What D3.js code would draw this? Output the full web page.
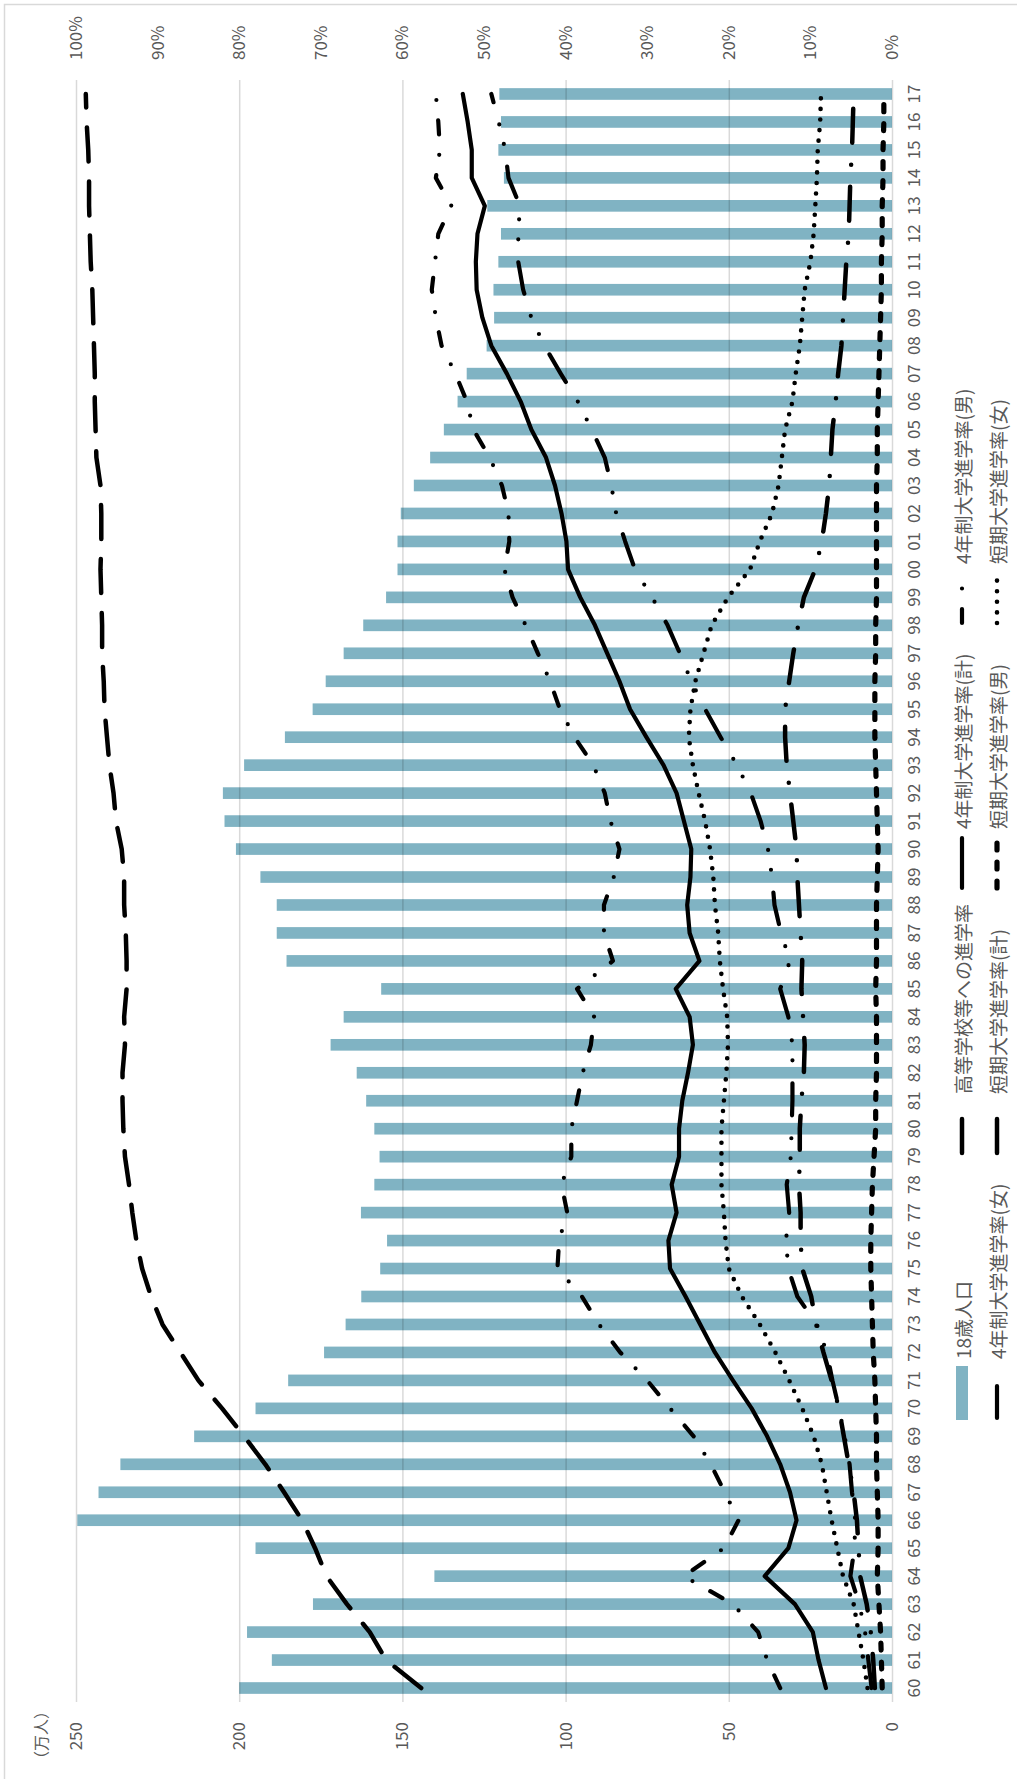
<!DOCTYPE html>
<html><head><meta charset="utf-8">
<script src="https://cdn.jsdelivr.net/npm/d3@7"></script>
<style>
html,body{margin:0;padding:0;background:#fff;}
svg{display:block;}
text{font-family:"Noto Sans CJK JP","Noto Sans",sans-serif;}
</style></head><body>
<svg id="chart" width="1017" height="1779"></svg>
<script>
// School years 1960–2017 (two-digit labels)
const years = ["60","61","62","63","64","65","66","67","68","69",
  "70","71","72","73","74","75","76","77","78","79",
  "80","81","82","83","84","85","86","87","88","89",
  "90","91","92","93","94","95","96","97","98","99",
  "00","01","02","03","04","05","06","07","08","09",
  "10","11","12","13","14","15","16","17"];

// 18-year-old population (10,000 persons)
const population = [200,190,197.6,177.4,140.2,195,249.6,243.1,236.4,213.8,
  195,185,174,167.4,162.6,156.8,154.7,162.7,158.6,157,
  158.6,161.1,164,172,168,156.5,185.5,188.5,188.5,193.5,
  201,204.5,205,198.5,186,177.5,173.5,168,162,155,
  151.5,151.5,150.5,146.5,141.5,137.3,133.1,130.3,124.2,121.9,
  122.1,120.6,119.8,124,118.9,120.6,119.8,120.3];

// Enrolment rates (%)
const highSchool = [57.7,62.0,64.0,66.8,69.3,70.7,72.3,74.5,76.8,79.4,
  82.1,85.0,87.2,89.4,90.8,91.9,92.6,93.1,93.5,94.0,
  94.2,94.3,94.3,94.0,94.1,93.8,93.8,93.9,94.1,94.1,
  94.4,95.1,95.4,95.9,96.2,96.5,96.6,96.8,96.8,96.9,
  97.0,96.9,96.9,97.0,97.5,97.6,97.7,97.7,97.8,97.9,
  98.0,98.2,98.3,98.4,98.4,98.5,98.7,98.8];
const univTotal = [8.1,9.0,9.7,11.9,15.6,12.7,11.7,12.5,13.7,15.3,
  17.2,19.5,21.7,23.5,25.3,27.2,27.4,26.4,27.0,26.1,
  26.1,25.7,25.0,24.4,24.8,26.5,23.6,24.8,25.1,24.7,
  24.6,25.5,26.4,28.0,30.1,32.1,33.4,34.9,36.4,38.2,
  39.7,39.9,40.5,41.3,42.4,44.2,45.5,47.2,49.1,50.2,
  50.9,51.0,50.8,49.9,51.5,51.5,52.0,52.6];
const univMale = [13.7,15.3,16.4,19.5,25.5,20.6,18.8,20.5,22.2,24.3,
  27.2,30.0,33.3,35.9,38.0,41.0,40.8,39.8,40.5,39.3,
  39.3,38.6,37.9,36.9,36.5,38.6,34.2,35.3,35.3,34.1,
  33.4,34.5,35.2,36.6,38.9,40.7,41.9,43.4,44.9,46.5,
  47.5,46.9,47.0,47.8,49.3,51.3,52.1,53.5,55.2,55.9,
  56.4,56.0,55.6,54.0,55.9,55.4,55.6,55.9];
const univFemale = [2.5,2.9,3.3,4.0,5.1,4.6,4.5,4.9,5.2,5.8,
  6.5,7.3,8.0,9.2,11.6,12.7,13.0,12.6,12.9,12.4,
  12.3,12.2,12.2,12.2,12.7,13.7,12.5,13.6,14.4,14.7,
  15.2,16.1,17.3,19.0,21.0,22.9,24.6,26.0,27.5,29.4,
  31.5,32.7,33.8,34.4,35.2,36.8,38.5,40.6,42.6,44.2,
  45.2,45.8,45.8,45.6,47.0,47.4,48.2,49.1];
const juniorTotal = [2.1,2.3,2.6,3.1,3.9,4.1,4.3,4.7,5.3,5.9,
  6.5,7.4,8.4,9.3,9.9,11.0,11.2,11.2,11.4,11.3,
  11.3,11.1,10.8,10.7,10.9,11.1,11.0,11.2,11.4,11.6,
  11.7,12.1,12.5,12.9,13.1,13.1,12.6,12.1,11.5,10.8,
  9.4,8.6,8.1,7.7,7.5,7.3,6.9,6.6,6.2,6.0,
  5.8,5.6,5.3,5.2,5.1,4.9,4.8,4.7];
const juniorMale = [1.2,1.3,1.4,1.6,1.8,1.7,1.7,1.8,1.9,1.9,
  2.0,2.1,2.3,2.4,2.5,2.6,2.6,2.5,2.4,2.2,
  2.0,2.0,1.9,1.9,1.9,2.0,1.9,1.9,1.9,1.8,
  1.7,1.8,1.9,2.0,2.1,2.1,2.1,2.0,2.0,1.9,
  1.9,1.9,1.9,1.9,1.8,1.8,1.7,1.6,1.5,1.4,
  1.3,1.3,1.2,1.2,1.1,1.1,1.0,1.0];
const juniorFemale = [3.0,3.5,4.1,4.7,6.0,6.7,7.4,8.0,8.6,9.6,
  11.0,12.6,14.3,16.2,18.4,20.0,20.4,20.6,20.9,20.9,
  20.9,20.6,20.3,20.1,20.2,20.7,21.1,21.3,21.7,21.9,
  22.3,22.9,23.7,24.4,24.9,24.7,24.1,23.1,22.1,20.1,
  17.4,16.2,14.7,13.9,13.5,13.1,12.2,11.8,11.3,11.0,
  10.7,10.0,9.6,9.4,9.2,9.1,8.8,8.7];

// Axis ticks
const popTicks = [0,50,100,150,200,250];
const pctTicks = [0,10,20,30,40,50,60,70,80,90,100];
const popUnit = "（万人）";

// Legend labels, in legend order
const legendLabels = ["18歳人口","高等学校等への進学率","4年制大学進学率(計)","4年制大学進学率(男)",
  "4年制大学進学率(女)","短期大学進学率(計)","短期大学進学率(男)","短期大学進学率(女)"];

// ---- drawing (chart is laid out landscape, then turned a quarter turn) ----
const W = 1779, H = 1017;
const plot = {left: 77, right: 1699, top: 76, bottom: 892};
const ink = "#595959";
const fontStack = '"Noto Sans CJK JP","Noto Sans",sans-serif';

const svg = d3.select("#chart");
svg.append("rect").attr("width",1017).attr("height",1779).attr("fill","#fff");
// frame edges
svg.append("path").attr("d","M4.5,1779 V4.5 H1017").attr("fill","none")
  .attr("stroke","#d9d9d9").attr("stroke-width",1.5);

const g = svg.append("g").attr("transform", `translate(0,${W}) rotate(-90)`);

const x = d3.scaleBand().domain(years).range([plot.left, plot.right])
  .paddingInner(0.583).paddingOuter(0.2915);
const yPop = d3.scaleLinear().domain([0,250]).range([plot.bottom, plot.top]);
const yPct = d3.scaleLinear().domain([0,100]).range([plot.bottom, plot.top]);
const cx = i => x(years[i]) + x.bandwidth()/2;

// bars
g.append("g").selectAll("rect").data(population).join("rect")
  .attr("x",(d,i)=>x(years[i])).attr("width",x.bandwidth())
  .attr("y",d=>yPop(d)).attr("height",d=>yPop(0)-yPop(d))
  .attr("fill","#80b3c3");

// gridlines
const grid = g.append("g").attr("transform",`translate(${plot.left},0)`)
  .call(d3.axisLeft(yPop).tickValues(popTicks).tickSize(-(plot.right-plot.left)).tickFormat(""));
grid.select(".domain").remove();
grid.selectAll("line").attr("stroke","rgba(0,0,0,0.15)").attr("stroke-width",1.5);

// axes
const xAxis = g.append("g").attr("transform",`translate(0,${plot.bottom})`)
  .call(d3.axisBottom(x).tickSize(0));
xAxis.select(".domain").remove();
xAxis.selectAll("text").attr("y",22).attr("dy","0.35em");

const leftAxis = g.append("g").attr("transform",`translate(${plot.left},0)`)
  .call(d3.axisLeft(yPop).tickValues(popTicks).tickSize(0).tickPadding(20));
leftAxis.select(".domain").remove();

const rightAxis = g.append("g").attr("transform",`translate(${plot.right},0)`)
  .call(d3.axisRight(yPct).tickValues(pctTicks).tickFormat(d=>d+"%").tickSize(0).tickPadding(20));
rightAxis.select(".domain").remove();

[xAxis, leftAxis, rightAxis].forEach(a => a.attr("font-family", fontStack).attr("font-size", 17)
  .selectAll("text").attr("fill", ink));

g.append("text").attr("x",44).attr("y",40).attr("text-anchor","middle")
  .attr("dominant-baseline","central").attr("font-size",16).attr("fill",ink).text(popUnit);

// line series
const styles = [
  {w:4.5, dash:"34 20"},            // high school
  {w:4.2, dash:null},               // univ total
  {w:4.2, dash:"14 20.5 0 20.5"},   // univ male
  {w:4.2, dash:"32 23 0 20 0 23"},  // univ female
  {w:4.5, dash:"34 22 0 22"},       // junior total
  {w:5.2, dash:"7 12"},             // junior male
  {w:4.6, dash:"0 10.6"}            // junior female
];
const series = [highSchool, univTotal, univMale, univFemale, juniorTotal, juniorMale, juniorFemale];
const line = d3.line().x((d,i)=>cx(i)).y(d=>yPct(d));
series.forEach((s,k)=>{
  g.append("path").datum(s).attr("d",line).attr("fill","none")
    .attr("stroke","#000").attr("stroke-width",styles[k].w)
    .attr("stroke-linecap","round").attr("stroke-linejoin","round")
    .attr("stroke-dasharray",styles[k].dash);
});

// legend: two rows of four, centred under the plot
const rowY = [962, 997];
const colX = [359, 624, 889, 1154];
const sampleLen = 54, textOff = 61;
const lg = g.append("g");
legendLabels.forEach((label,i)=>{
  const r = Math.floor(i/4), c = i%4;
  const x0 = colX[c], y0 = rowY[r];
  if (i === 0) {
    lg.append("rect").attr("x",x0).attr("y",y0-6).attr("width",sampleLen).attr("height",12)
      .attr("fill","#80b3c3");
  } else {
    const st = styles[i-1];
    lg.append("path").attr("d",`M${x0+2},${y0}H${x0+sampleLen-2}`).attr("fill","none")
      .attr("stroke","#000").attr("stroke-width",st.w).attr("stroke-linecap","round")
      .attr("stroke-dasharray",st.dash);
  }
  lg.append("text").attr("x",x0+textOff).attr("y",y0).attr("dominant-baseline","central")
    .attr("font-size",19).attr("fill",ink).text(label);
});
</script>
</body></html>
